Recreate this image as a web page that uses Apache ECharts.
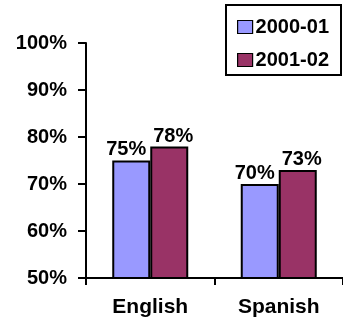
<!DOCTYPE html>
<html>
<head>
<meta charset="utf-8">
<script src="https://cdn.jsdelivr.net/npm/echarts@6/dist/echarts.min.js"></script>
<style>
  html, body { margin: 0; padding: 0; background: #fff; }
  #chart { width: 343px; height: 322px; }
</style>
</head>
<body>
<div id="chart"></div>
<script>
const categories = ['English', 'Spanish']
const seriesNames = ['2000-01', '2001-02']
const values2000 = [75, 70]
const values2001 = [78, 73]
const yTicks = [50, 60, 70, 80, 90, 100]

const font = 'Liberation Sans'
const chart = echarts.init(document.getElementById('chart'))

chart.setOption({
  animation: false,
  textStyle: { fontFamily: font, fontWeight: 'bold', color: '#000' },
  legend: {
    data: seriesNames,
    orient: 'vertical',
    right: 2,
    top: 5,
    padding: [12, 12, 5, 11],
    itemGap: 13,
    itemWidth: 15,
    itemHeight: 13,
    icon: 'rect',
    borderColor: '#000',
    borderWidth: 2,
    borderRadius: 0,
    backgroundColor: '#fff',
    itemStyle: { borderColor: '#000', borderWidth: 1.2 },
    textStyle: { fontFamily: font, fontWeight: 'bold', fontSize: 20, color: '#000', padding: [0, 0, 0, -2] }
  },
  grid: { left: 86, top: 43, bottom: 44, width: 267, containLabel: false },
  xAxis: {
    type: 'category',
    data: categories,
    axisLine: { lineStyle: { color: '#000', width: 2 } },
    axisTick: { show: true, length: 7, lineStyle: { color: '#000', width: 2 } },
    axisLabel: { margin: 19, fontFamily: font, fontWeight: 'bold', fontSize: 21, color: '#000' }
  },
  yAxis: {
    type: 'value',
    min: yTicks[0],
    max: yTicks[yTicks.length - 1],
    interval: 10,
    splitLine: { show: false },
    axisLine: { show: true, lineStyle: { color: '#000', width: 2 } },
    axisTick: { show: true, length: 8, lineStyle: { color: '#000', width: 2 } },
    axisLabel: { formatter: '{value}%', margin: 19, fontFamily: font, fontWeight: 'bold', fontSize: 20, color: '#000' }
  },
  series: [
    {
      name: seriesNames[0],
      type: 'bar',
      data: values2000,
      barWidth: 38,
      barGap: '0%',
      itemStyle: { color: '#9999FF', borderColor: '#000', borderWidth: 2 },
      label: {
        show: true, position: 'top', distance: 1, offset: [-5, 0],
        formatter: '{c}%', fontFamily: font, fontWeight: 'bold', fontSize: 20, color: '#000'
      }
    },
    {
      name: seriesNames[1],
      type: 'bar',
      data: values2001,
      barWidth: 38,
      itemStyle: { color: '#993366', borderColor: '#000', borderWidth: 2 },
      label: {
        show: true, position: 'top', distance: 0, offset: [4, 0],
        formatter: '{c}%', fontFamily: font, fontWeight: 'bold', fontSize: 20, color: '#000'
      }
    }
  ]
})
</script>
</body>
</html>
